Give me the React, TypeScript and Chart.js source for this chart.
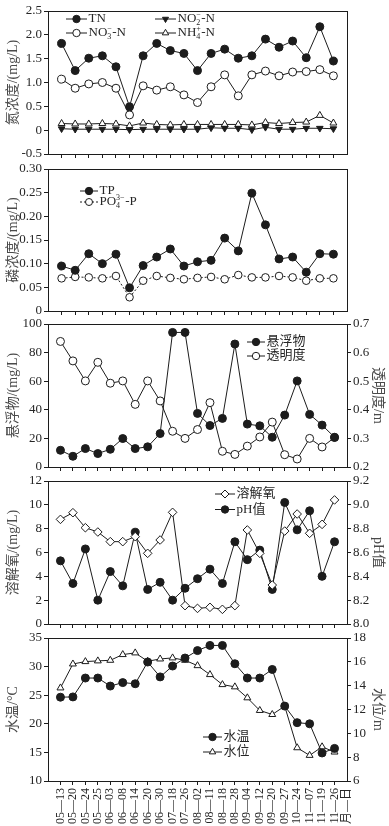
import React, { useEffect, useRef } from 'react';
import { Chart, registerables } from 'chart.js';
import { drawPoint } from 'chart.js/helpers';

Chart.register(...registerables);

// ---------- categories ----------
const DATES = ['05—13', '05—20', '05—24', '05—25', '06—03', '06—08', '06—14', '06—20', '06—30', '07—18', '07—26', '08—02', '08—11', '08—18', '08—28', '09—04', '09—12', '09—20', '09—27', '10—24', '11—07', '11—19', '11—26'];
const END_LABEL = '月—日';

// ---------- series (panel 1: nitrogen, 21 samples) ----------
const TN = [1.82, 1.25, 1.51, 1.56, 1.33, 0.49, 1.56, 1.82, 1.67, 1.61, 1.25, 1.61, 1.70, 1.51, 1.56, 1.91, 1.74, 1.87, 1.52, 2.17, 1.45];
const NO3N = [1.07, 0.88, 0.97, 1.00, 0.88, 0.32, 0.93, 0.84, 0.91, 0.74, 0.58, 0.91, 1.16, 0.72, 1.16, 1.24, 1.14, 1.22, 1.23, 1.27, 1.14];
const NO2N = [0.03, 0.02, 0.02, 0.02, 0.02, 0.01, 0.02, 0.02, 0.02, 0.02, 0.02, 0.05, 0.04, 0.04, 0.01, 0.06, 0.02, 0.02, 0.04, 0.04, 0.03];
const NH4N = [0.14, 0.13, 0.13, 0.14, 0.13, 0.09, 0.15, 0.12, 0.11, 0.12, 0.12, 0.12, 0.12, 0.12, 0.11, 0.16, 0.14, 0.16, 0.17, 0.31, 0.15];

// ---------- panel 2: phosphorus, 21 samples ----------
const TP = [0.095, 0.086, 0.121, 0.100, 0.120, 0.049, 0.096, 0.114, 0.131, 0.095, 0.104, 0.107, 0.154, 0.127, 0.249, 0.182, 0.110, 0.114, 0.082, 0.121, 0.120];
const PO4P = [0.069, 0.072, 0.071, 0.069, 0.074, 0.029, 0.064, 0.074, 0.070, 0.067, 0.070, 0.072, 0.067, 0.076, 0.071, 0.071, 0.074, 0.071, 0.064, 0.069, 0.069];

// ---------- panel 3: suspended solids / transparency, 23 samples ----------
const SS = [11.7, 7.5, 12.9, 9.4, 12.4, 19.9, 12.9, 14.1, 23.4, 94.1, 94.1, 37.5, 29.0, 34.0, 86.0, 30.0, 28.8, 20.8, 36.3, 60.2, 36.8, 29.3, 20.8];
const SD = [0.639, 0.571, 0.501, 0.566, 0.493, 0.501, 0.419, 0.501, 0.431, 0.325, 0.300, 0.331, 0.425, 0.255, 0.244, 0.273, 0.305, 0.357, 0.243, 0.228, 0.300, 0.270, 0.303];

// ---------- panel 4: dissolved oxygen / pH, 23 samples ----------
const DO = [8.78, 9.34, 8.08, 7.72, 6.91, 6.91, 7.33, 5.93, 7.05, 9.37, 1.54, 1.31, 1.40, 1.23, 1.54, 7.89, 5.93, 3.27, 7.80, 9.23, 7.61, 8.36, 10.41];
const PH = [8.53, 8.34, 8.63, 8.20, 8.44, 8.32, 8.77, 8.29, 8.35, 8.20, 8.30, 8.38, 8.46, 8.34, 8.69, 8.54, 8.62, 8.29, 9.02, 8.79, 8.95, 8.40, 8.69];

// ---------- panel 5: water temperature / water level, 23 samples ----------
const WT = [24.65, 24.7, 28.0, 28.0, 26.6, 27.2, 27.0, 30.8, 28.2, 30.1, 31.5, 32.8, 33.7, 33.7, 30.5, 28.0, 28.0, 29.5, 23.1, 20.2, 20.0, 14.9, 15.7];
const WL = [13.81, 15.82, 16.02, 16.08, 16.13, 16.61, 16.75, 16.05, 16.24, 16.33, 16.13, 15.68, 14.93, 14.09, 13.90, 12.98, 11.92, 11.58, 12.28, 8.79, 8.15, 8.87, 8.43];

// ---------- tick values / labels ----------
const N_TICKS = [-0.5, 0, 0.5, 1, 1.5, 2, 2.5];
const N_LABELS = ['-0.5', '0', '0.5', '1.0', '1.5', '2.0', '2.5'];
const P_TICKS = [0, 0.05, 0.1, 0.15, 0.2, 0.25, 0.3];
const P_LABELS = ['0', '0.05', '0.10', '0.15', '0.20', '0.25', '0.30'];
const SS_TICKS = [0, 20, 40, 60, 80, 100];
const SS_LABELS = ['0', '20', '40', '60', '80', '100'];
const SD_TICKS = [0.2, 0.3, 0.4, 0.5, 0.6, 0.7];
const SD_LABELS = ['0.2', '0.3', '0.4', '0.5', '0.6', '0.7'];
const DO_TICKS = [0, 2, 4, 6, 8, 10, 12];
const DO_LABELS = ['0', '2', '4', '6', '8', '10', '12'];
const PH_TICKS = [8.0, 8.2, 8.4, 8.6, 8.8, 9.0, 9.2];
const PH_LABELS = ['8.0', '8.2', '8.4', '8.6', '8.8', '9.0', '9.2'];
const WT_TICKS = [10, 15, 20, 25, 30, 35];
const WT_LABELS = ['10', '15', '20', '25', '30', '35'];
const WL_TICKS = [6, 8, 10, 12, 14, 16, 18];
const WL_LABELS = ['6', '8', '10', '12', '14', '16', '18'];

// ---------- styling ----------
const INK = '#1c1c1c';
const TEXT = '#262626';
const TITLE = '#4a4a4a';
const FONT = '"Liberation Serif", "Times New Roman", "Noto Sans CJK SC", serif';
const PAD = 10;
const W = 389;
const LEFT_W = 48;
const RIGHT_W = 42;

type Seg = string | { sub?: string; sup?: string };
type Series = {
  label: Seg[];
  values: number[];
  axis: 'y' | 'y1';
  style: string;
  rotation?: number;
  fill: boolean;
  dash?: number[];
  radius: number;
  lx: number;
  ly: number;
  llen: number;
};
type Axis = { min: number; max: number; ticks: number[]; labels: string[]; title: string };
type Panel = {
  top: number;
  bottom: number;
  xh: number;
  n: number;
  dates: boolean;
  y: Axis;
  y1?: Axis;
  series: Series[];
};

const PANELS: Panel[] = [
  {
    top: 11, bottom: 154, xh: 10, n: TN.length, dates: false,
    y: { min: -0.5, max: 2.5, ticks: N_TICKS, labels: N_LABELS, title: '氮浓度/(mg/L)' },
    series: [
      { label: ['TN'], values: TN, axis: 'y', style: 'circle', fill: true, radius: 4, lx: 66, ly: 19, llen: 21 },
      { label: ['NO', { sub: '3', sup: '−' }, '-N'], values: NO3N, axis: 'y', style: 'circle', fill: false, radius: 4, lx: 66, ly: 33, llen: 21 },
      { label: ['NO', { sub: '2', sup: '−' }, '-N'], values: NO2N, axis: 'y', style: 'triangle', rotation: 180, fill: true, radius: 3.8, lx: 155, ly: 19, llen: 21 },
      { label: ['NH', { sub: '4', sup: '+' }, '-N'], values: NH4N, axis: 'y', style: 'triangle', fill: false, radius: 4, lx: 155, ly: 33, llen: 21 },
    ],
  },
  {
    top: 169, bottom: 311, xh: 10, n: TP.length, dates: false,
    y: { min: 0, max: 0.3, ticks: P_TICKS, labels: P_LABELS, title: '磷浓度/(mg/L)' },
    series: [
      { label: ['TP'], values: TP, axis: 'y', style: 'circle', fill: true, radius: 4, lx: 80, ly: 191, llen: 18 },
      { label: ['PO', { sub: '4', sup: '3−' }, '-P'], values: PO4P, axis: 'y', style: 'circle', fill: false, dash: [2, 2], radius: 3.8, lx: 80, ly: 202, llen: 18 },
    ],
  },
  {
    top: 324, bottom: 467, xh: 10, n: SS.length, dates: false,
    y: { min: 0, max: 100, ticks: SS_TICKS, labels: SS_LABELS, title: '悬浮物/(mg/L)' },
    y1: { min: 0.2, max: 0.7, ticks: SD_TICKS, labels: SD_LABELS, title: '透明度/m' },
    series: [
      { label: ['悬浮物'], values: SS, axis: 'y', style: 'circle', fill: true, radius: 4, lx: 247, ly: 342, llen: 18 },
      { label: ['透明度'], values: SD, axis: 'y1', style: 'circle', fill: false, radius: 4, lx: 247, ly: 356, llen: 18 },
    ],
  },
  {
    top: 481, bottom: 624, xh: 10, n: DO.length, dates: false,
    y: { min: 0, max: 12, ticks: DO_TICKS, labels: DO_LABELS, title: '溶解氧/(mg/L)' },
    y1: { min: 8.0, max: 9.2, ticks: PH_TICKS, labels: PH_LABELS, title: 'pH值' },
    series: [
      { label: ['溶解氧'], values: DO, axis: 'y', style: 'rectRot', fill: false, radius: 4.3, lx: 215, ly: 494, llen: 20 },
      { label: ['pH值'], values: PH, axis: 'y1', style: 'circle', fill: true, radius: 4, lx: 215, ly: 509.5, llen: 20 },
    ],
  },
  {
    top: 638, bottom: 781, xh: 45, n: WT.length, dates: true,
    y: { min: 10, max: 35, ticks: WT_TICKS, labels: WT_LABELS, title: '水温/°C' },
    y1: { min: 6, max: 18, ticks: WL_TICKS, labels: WL_LABELS, title: '水位/m' },
    series: [
      { label: ['水温'], values: WT, axis: 'y', style: 'circle', fill: true, radius: 4, lx: 203, ly: 737, llen: 19 },
      { label: ['水位'], values: WL, axis: 'y1', style: 'triangle', fill: false, radius: 4, lx: 203, ly: 752, llen: 19 },
    ],
  },
];

function drawRich(ctx: CanvasRenderingContext2D, segs: Seg[], x: number, y: number, size: number) {
  let cx = x;
  ctx.textBaseline = 'middle';
  ctx.textAlign = 'left';
  for (const s of segs) {
    if (typeof s === 'string') {
      ctx.font = `${size}px ${FONT}`;
      ctx.fillText(s, cx, y);
      cx += ctx.measureText(s).width;
    } else {
      const small = Math.round(size * 0.62);
      ctx.font = `${small}px ${FONT}`;
      let w = 0;
      if (s.sup) {
        ctx.fillText(s.sup, cx, y - size * 0.28);
        w = Math.max(w, ctx.measureText(s.sup).width);
      }
      if (s.sub) {
        ctx.fillText(s.sub, cx, y + size * 0.3);
        w = Math.max(w, ctx.measureText(s.sub).width);
      }
      cx += w + 0.5;
    }
  }
}

const legendPlugin = {
  id: 'customLegend',
  afterDraw(chart: any, _args: any, opts: any) {
    const ctx: CanvasRenderingContext2D = chart.ctx;
    const offset: number = opts.offset;
    for (const s of opts.series as Series[]) {
      const y = s.ly - offset;
      ctx.save();
      ctx.strokeStyle = INK;
      ctx.lineWidth = 1;
      ctx.setLineDash(s.dash || []);
      ctx.beginPath();
      ctx.moveTo(s.lx, y);
      ctx.lineTo(s.lx + s.llen, y);
      ctx.stroke();
      ctx.setLineDash([]);
      ctx.fillStyle = s.fill ? INK : '#ffffff';
      drawPoint(ctx, { pointStyle: s.style as any, rotation: s.rotation || 0, radius: s.radius - 0.3, borderWidth: 1 } as any, s.lx + s.llen / 2, y);
      ctx.fillStyle = TEXT;
      drawRich(ctx, s.label, s.lx + s.llen + 1.5, y, 13);
      ctx.restore();
    }
  },
};

const framePlugin = {
  id: 'frame',
  beforeDatasetsDraw(chart: any) {
    const { left, top, right, bottom } = chart.chartArea;
    const ctx: CanvasRenderingContext2D = chart.ctx;
    ctx.save();
    ctx.strokeStyle = INK;
    ctx.lineWidth = 1;
    const L = Math.round(left), T = Math.round(top), R = Math.round(right), B = Math.round(bottom);
    ctx.strokeRect(L + 0.5, T + 0.5, R - L, B - T);
    ctx.restore();
  },
};

function yScale(a: Axis, position: 'left' | 'right', width: number, titlePad: number) {
  return {
    type: 'linear',
    position,
    min: a.min,
    max: a.max,
    afterBuildTicks: (s: any) => {
      s.ticks = a.ticks.map((v) => ({ value: v }));
    },
    afterFit: (s: any) => {
      s.width = width;
    },
    grid: { display: true, drawOnChartArea: false, drawTicks: true, tickLength: 4, color: INK, lineWidth: 1 },
    border: { display: true, color: INK, width: 1 },
    ticks: {
      padding: 2,
      color: TEXT,
      font: { family: FONT, size: 13 },
      callback: (_v: any, i: number) => a.labels[i],
    },
    title: {
      display: true,
      text: a.title,
      color: TITLE,
      font: { family: FONT, size: 14 },
      padding: { top: titlePad, bottom: 0 },
    },
  };
}

function PanelChart({ p }: { p: Panel }) {
  const ref = useRef<HTMLCanvasElement>(null);
  const canvasTop = p.top - PAD;
  const height = p.bottom - p.top + PAD + p.xh;

  useEffect(() => {
    const canvas = ref.current;
    if (!canvas) return;
    const N = p.n;
    const xTicks = Array.from({ length: N + 2 }, (_, i) => i - 1);
    const scales: any = {
      x: {
        type: 'linear',
        min: -1,
        max: N,
        afterBuildTicks: (s: any) => {
          s.ticks = xTicks.map((v) => ({ value: v }));
        },
        afterFit: (s: any) => {
          s.height = p.xh;
        },
        grid: {
          display: true,
          drawOnChartArea: false,
          drawTicks: true,
          tickLength: 4,
          lineWidth: 1,
          color: INK,
          tickColor: (c: any) => (c.tick && (c.tick.value < 0 || c.tick.value >= N) ? 'rgba(0,0,0,0)' : INK),
        },
        border: { display: true, color: INK, width: 1 },
        ticks: {
          autoSkip: false,
          minRotation: p.dates ? 90 : 0,
          maxRotation: p.dates ? 90 : 0,
          padding: 3,
          color: TEXT,
          font: { family: FONT, size: 12 },
          callback: (v: any) => {
            if (!p.dates) return '';
            const k = Math.round(Number(v));
            if (k < 0) return '';
            if (k >= N) return END_LABEL;
            return DATES[k];
          },
        },
      },
      y: yScale(p.y, 'left', LEFT_W, 5),
    };
    if (p.y1) scales.y1 = yScale(p.y1, 'right', RIGHT_W, 3);

    const chart = new Chart(canvas, {
      type: 'line',
      data: {
        datasets: p.series.map((s) => ({
          label: typeof s.label[0] === 'string' ? (s.label[0] as string) : '',
          data: s.values.map((y, x) => ({ x, y })),
          yAxisID: s.axis,
          borderColor: INK,
          borderWidth: 1,
          borderDash: s.dash || [],
          pointStyle: s.style as any,
          pointRotation: s.rotation || 0,
          pointRadius: s.radius,
          pointHoverRadius: s.radius,
          pointBackgroundColor: s.fill ? INK : '#ffffff',
          pointBorderColor: INK,
          pointBorderWidth: 1,
          fill: false,
          tension: 0,
          clip: false as any,
        })),
      },
      options: {
        responsive: false,
        animation: false,
        devicePixelRatio: 1,
        layout: { padding: { top: PAD, right: p.y1 ? 0 : RIGHT_W, left: 0, bottom: 0 } },
        plugins: {
          legend: { display: false },
          tooltip: { enabled: false },
          customLegend: { series: p.series, offset: canvasTop },
        } as any,
        scales,
      },
      plugins: [framePlugin, legendPlugin],
    });
    return () => chart.destroy();
  }, [p]);

  return (
    <canvas
      ref={ref}
      width={W}
      height={height}
      style={{ position: 'absolute', left: 0, top: canvasTop, width: W, height }}
    />
  );
}

export default function App() {
  return (
    <div style={{ position: 'absolute', left: 0, top: 0, width: W, height: 826, background: '#ffffff', overflow: 'hidden' }}>
      {PANELS.map((p, i) => (
        <PanelChart key={i} p={p} />
      ))}
    </div>
  );
}
